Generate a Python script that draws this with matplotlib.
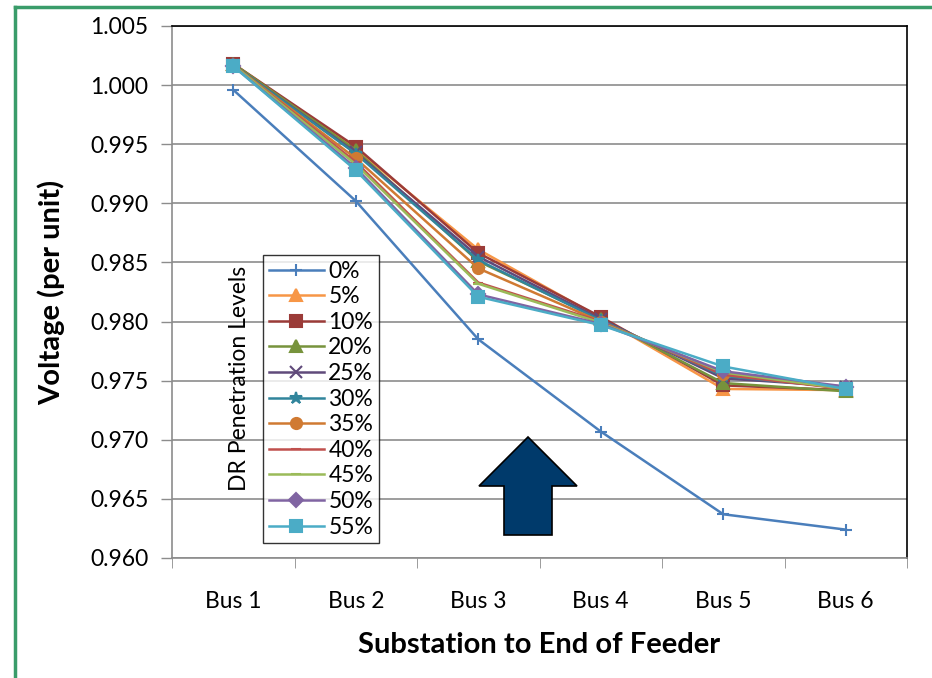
import matplotlib.pyplot as plt
from matplotlib.lines import Line2D
from matplotlib.patches import Polygon

buses = ["Bus 1", "Bus 2", "Bus 3", "Bus 4", "Bus 5", "Bus 6"]
levels = ["0%", "5%", "10%", "20%", "25%", "30%", "35%", "40%", "45%", "50%", "55%"]

v_0 = [0.9996, 0.9902, 0.9785, 0.9707, 0.9637, 0.9624]
v_5 = [1.0018, 0.9946, 0.9861, 0.9803, 0.9743, 0.9742]
v_10 = [1.0018, 0.9948, 0.9858, 0.9804, 0.9746, 0.9742]
v_20 = [1.0018, 0.9945, 0.9851, 0.9802, 0.9748, 0.9741]
v_25 = [1.0017, 0.9943, 0.9855, 0.9802, 0.9752, 0.9745]
v_30 = [1.0017, 0.9942, 0.9852, 0.9801, 0.9754, 0.9744]
v_35 = [1.0017, 0.9938, 0.9845, 0.9800, 0.9756, 0.9743]
v_40 = [1.0017, 0.9935, 0.9833, 0.9800, 0.9755, 0.9743]
v_45 = [1.0017, 0.9933, 0.9832, 0.9799, 0.9757, 0.9743]
v_50 = [1.0016, 0.9930, 0.9823, 0.9798, 0.9758, 0.9745]
v_55 = [1.0016, 0.9928, 0.9821, 0.9797, 0.9762, 0.9743]
series = [v_0, v_5, v_10, v_20, v_25, v_30, v_35, v_40, v_45, v_50, v_55]

colors = ["#4A7EBB", "#F79646", "#9B3B38", "#77933C", "#604A7B", "#31859C",
          "#D07A32", "#C0504D", "#9BBB59", "#8064A2", "#4BACC6"]
markers = ["+", "^", "s", "^", "x", "*", "o", "_", "_", "D", "s"]
msizes = [9, 8, 8, 8, 8, 9, 8, 7, 7, 7, 8]

plt.rcParams['font.family'] = ['Lato', 'DejaVu Sans']

fig = plt.figure(figsize=(9.32, 6.78), dpi=100)
ax = fig.add_axes([172 / 932, 1 - 558 / 678, 735 / 932, 532 / 678])

x = list(range(len(buses)))
for vals, lab, c, m, ms in zip(series, levels, colors, markers, msizes):
    ax.plot(x, vals, color=c, marker=m, markersize=ms, linewidth=1.8,
            markeredgewidth=1.5, label=lab)

ax.set_xlim(-0.5, 5.5)
ax.set_ylim(0.960, 1.005)
ax.set_yticks([0.960 + 0.005 * i for i in range(10)])
ax.set_yticklabels(["%.3f" % (0.960 + 0.005 * i) for i in range(10)], fontsize=16.5)
ax.yaxis.grid(True, color="#8C8C8C", linewidth=1.2)
ax.set_axisbelow(True)
ax.set_xticks(x)
ax.set_xticklabels(buses, fontsize=16.5)
ax.set_xticks([i - 0.5 for i in range(len(buses) + 1)], minor=True)
ax.tick_params(axis="x", which="major", length=0, pad=24)
ax.tick_params(axis="x", which="minor", length=7, color="#8C8C8C", direction="out")
ax.tick_params(axis="y", length=8, color="#8C8C8C", direction="out", width=1, pad=9)
for s in ["left", "bottom"]:
    ax.spines[s].set_color("#8C8C8C")
    ax.spines[s].set_linewidth(1.2)
for s in ["top", "right"]:
    ax.spines[s].set_color("black")
    ax.spines[s].set_linewidth(1.2)

ax.set_ylabel("Voltage (per unit)", fontsize=21, fontweight="bold", labelpad=18)
ax.set_xlabel("Substation to End of Feeder", fontsize=21, fontweight="bold", labelpad=14)

leg = ax.legend(loc="upper left", bbox_to_anchor=((263 - 172) / 735, (558 - 255) / 532),
                fontsize=16.5, frameon=True, fancybox=False, edgecolor="black",
                handlelength=2.4, handletextpad=0.2, labelspacing=0.2,
                borderpad=0.25, borderaxespad=0)
leg.get_frame().set_linewidth(1.0)

fig.text(240 / 932, 1 - 378 / 678, "DR Penetration Levels", rotation=90,
         ha="center", va="center", fontsize=16.5)

# big up arrow
arrow_px = [(528, 437), (577, 486), (552, 486), (552, 535), (504, 535), (504, 486), (479, 486)]
arrow_fig = [(px / 932, 1 - py / 678) for px, py in arrow_px]
fig.patches.append(Polygon(arrow_fig, closed=True, transform=fig.transFigure,
                           facecolor="#003A6B", edgecolor="black", linewidth=1.2, zorder=5))

# green frame
fig.add_artist(Line2D([15 / 932, 1], [1 - 7 / 678, 1 - 7 / 678], color="#3A9C6A",
                      linewidth=2.5, transform=fig.transFigure))
fig.add_artist(Line2D([15 / 932, 15 / 932], [0, 1 - 7 / 678], color="#3A9C6A",
                      linewidth=2.5, transform=fig.transFigure))

fig.savefig("out.png", dpi=100)
